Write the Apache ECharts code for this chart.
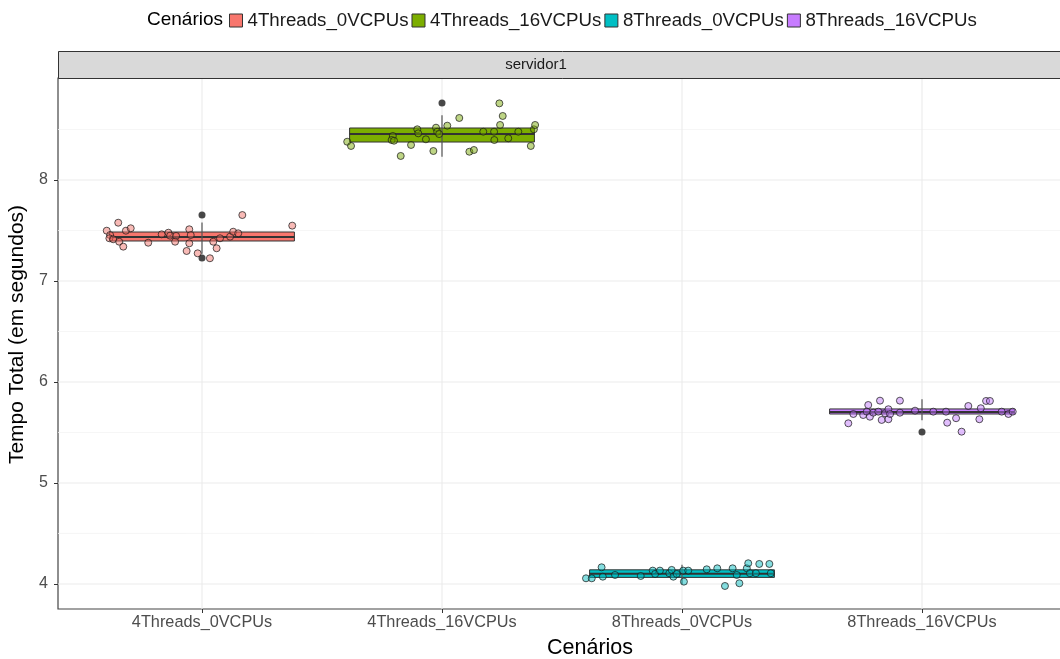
<!DOCTYPE html>
<html><head><meta charset="utf-8">
<script src="https://cdn.jsdelivr.net/npm/echarts@6/dist/echarts.min.js"></script>
<style>html,body{margin:0;padding:0;overflow:hidden;background:#fff}#c{width:1070px;height:659px}</style>
</head><body><div id="c"></div><script>
const categories = ['4Threads_0VCPUs','4Threads_16VCPUs','8Threads_0VCPUs','8Threads_16VCPUs'];
const colors = ['#F8766D','#7CAE00','#00BFC4','#C77CFF'];
const pointFills = ['rgba(240,110,102,0.6)','rgba(120,168,0,0.6)','rgba(0,185,190,0.6)','rgba(192,120,250,0.6)'];
// [category position, whiskerLow, Q1, median, Q3, whiskerHigh]
const boxStats = [
  [1, 7.27, 7.396, 7.436, 7.485, 7.58],
  [2, 8.23, 8.376, 8.455, 8.515, 8.64],
  [3, 4.00, 4.065, 4.100, 4.140, 4.19],
  [4, 5.62, 5.683, 5.703, 5.733, 5.83]
];
const outliers = [[1, 7.653], [1, 7.228], [2, 8.762], [4, 5.505]];
// jittered points (x in category units, value in seconds)
const jitterX1 = [0.603,0.651,0.617,0.614,0.630,0.655,0.672,0.683,0.703,0.776,0.832,0.860,0.867,0.892,0.888,0.936,0.947,0.953,0.947,0.982,1.033,1.061,1.047,1.075,1.117,1.130,1.151,1.168,1.376];
const values1  = [7.498,7.577,7.455,7.423,7.413,7.389,7.340,7.498,7.522,7.379,7.462,7.478,7.449,7.446,7.389,7.297,7.512,7.455,7.373,7.274,7.225,7.324,7.389,7.423,7.439,7.488,7.472,7.653,7.548];
const jitterX2 = [1.605,1.621,1.795,1.790,1.800,1.828,1.871,1.897,1.901,1.933,1.964,1.975,1.980,1.988,2.022,2.072,2.114,2.133,2.172,2.217,2.218,2.239,2.242,2.253,2.276,2.318,2.370,2.383,2.388];
const values2  = [8.379,8.337,8.436,8.396,8.389,8.238,8.347,8.502,8.462,8.403,8.287,8.518,8.478,8.455,8.538,8.614,8.280,8.297,8.478,8.478,8.396,8.759,8.545,8.634,8.413,8.478,8.337,8.502,8.545];
const jitterX3 = [2.600,2.624,2.665,2.670,2.721,2.828,2.878,2.888,2.908,2.947,2.957,2.964,2.978,3.005,3.008,3.026,3.103,3.147,3.179,3.211,3.228,3.239,3.270,3.276,3.283,3.322,3.308,3.364,3.370];
const values3  = [4.056,4.056,4.165,4.072,4.089,4.079,4.132,4.099,4.132,4.106,4.139,4.072,4.099,4.132,4.023,4.132,4.145,4.155,3.980,4.155,4.089,4.007,4.155,4.205,4.106,4.198,4.106,4.198,4.106];
const jitterX4 = [3.693,3.714,3.755,3.770,3.776,3.783,3.797,3.818,3.825,3.832,3.846,3.860,3.860,3.867,3.908,3.908,3.971,4.047,4.100,4.105,4.142,4.165,4.193,4.239,4.245,4.267,4.283,4.332,4.360,4.378];
const values4  = [5.591,5.683,5.673,5.706,5.772,5.656,5.696,5.706,5.815,5.624,5.690,5.631,5.730,5.683,5.696,5.815,5.716,5.706,5.706,5.597,5.641,5.508,5.762,5.631,5.740,5.812,5.812,5.706,5.683,5.706];
const yTicks = [4,5,6,7,8];
const yMinor = [4.5,5.5,6.5,7.5,8.5];
const xTicks = [1,2,3,4];

const jitterX = [jitterX1, jitterX2, jitterX3, jitterX4];
const jitterV = [values1, values2, values3, values4];
const FONT = 'Liberation Sans';
const BOX_HALF = 0.385;

const chart = echarts.init(document.getElementById('c'), null, {renderer:'canvas'});

function gridSeries(data, dir, color, width){
  return {
    type:'custom', silent:true, z:0, data: data.map(v => [v]),
    encode: dir === 'h' ? {y:0} : {x:0},
    renderItem(params, api){
      const cs = params.coordSys;
      if (dir === 'h'){
        const y = api.coord([1, api.value(0)])[1];
        return {type:'line', shape:{x1:cs.x, y1:y, x2:cs.x+cs.width, y2:y}, style:{stroke:color, lineWidth:width}};
      }
      const x = api.coord([api.value(0), 6])[0];
      return {type:'line', shape:{x1:x, y1:cs.y, x2:x, y2:cs.y+cs.height}, style:{stroke:color, lineWidth:width}};
    }
  };
}

const series = [
  gridSeries(yMinor, 'h', '#f4f4f4', 0.8),
  gridSeries(yTicks, 'h', '#ebebeb', 1.1),
  gridSeries(xTicks, 'v', '#ebebeb', 1.1)
];
categories.forEach((name, i) => {
  series.push({
    type:'custom', name, z:2, itemStyle:{color:colors[i]},
    data:[boxStats[i]],
    encode:{x:0, y:[1,2,3,4,5]},
    renderItem(params, api){
      const x = api.value(0);
      const lo = api.value(1), q1 = api.value(2), med = api.value(3), q3 = api.value(4), hi = api.value(5);
      const a = api.coord([x - BOX_HALF, q3]), b = api.coord([x + BOX_HALF, q1]);
      const t = api.coord([x, hi]), d = api.coord([x, lo]);
      const m1 = api.coord([x - BOX_HALF, med]), m2 = api.coord([x + BOX_HALF, med]);
      return {type:'group', children:[
        {type:'rect', shape:{x:a[0], y:a[1], width:b[0]-a[0], height:b[1]-a[1]}, style:{fill:colors[i], stroke:'#333', lineWidth:1}},
        {type:'line', shape:{x1:m1[0], y1:m1[1], x2:m2[0], y2:m2[1]}, style:{stroke:'#333', lineWidth:2}},
        {type:'line', shape:{x1:t[0], y1:t[1], x2:d[0], y2:d[1]}, style:{stroke:'#555', lineWidth:1.2}}
      ]};
    }
  });
});
series.push({
  type:'scatter', name:'outliers', z:3, symbolSize:7,
  itemStyle:{color:'#1a1a1a'}, data: outliers
});
categories.forEach((name, i) => {
  series.push({
    type:'scatter', name, z:4, symbolSize:7,
    itemStyle:{color:pointFills[i], borderColor:'rgba(25,25,25,0.9)', borderWidth:1},
    data: jitterX[i].map((x, k) => [x, jitterV[i][k]])
  });
});

chart.setOption({
  animation:false,
  textStyle:{fontFamily:FONT},
  title:{text:'Cenários', left:142, top:5, textStyle:{fontFamily:FONT, fontSize:19, fontWeight:'normal', color:'#000'}},
  legend:{
    left:224, top:6, itemWidth:13, itemHeight:13, itemGap:3, icon:'rect',
    textStyle:{fontFamily:FONT, fontSize:18.7, color:'#1a1a1a'},
    data: categories.map((n, i) => ({name:n, itemStyle:{color:colors[i], borderColor:'#333', borderWidth:1}}))
  },
  grid:{left:58, right:4, top:78, bottom:50, containLabel:false, outerBoundsMode:'none', show:true, borderColor:'#444', borderWidth:1.2, backgroundColor:'transparent'},
  xAxis:{
    type:'value', min:0.4, max:4.6,
    axisLine:{show:false},
    axisTick:{customValues:xTicks, length:4, lineStyle:{color:'#333'}},
    axisLabel:{customValues:xTicks, formatter:v => categories[Math.round(v)-1], fontSize:16.3, color:'#4d4d4d', margin:6, fontFamily:FONT},
    splitLine:{show:false},
    name:'Cenários', nameLocation:'middle', nameGap:28,
    nameTextStyle:{fontSize:21.5, color:'#000', fontFamily:FONT, padding:[0,0,0,56]}
  },
  yAxis:{
    type:'value', min:3.752, max:9.01,
    axisLine:{show:false},
    axisTick:{customValues:yTicks, length:4, lineStyle:{color:'#333'}},
    axisLabel:{customValues:yTicks, fontSize:16, color:'#4d4d4d', margin:10, fontFamily:FONT},
    splitLine:{show:false},
    name:'Tempo Total (em segundos)', nameLocation:'middle', nameGap:18,
    nameTextStyle:{fontSize:21, color:'#000', fontFamily:FONT, padding:[0,0,0,18]}
  },
  graphic:[
    {type:'rect', left:58, top:51, shape:{width:1008, height:27}, style:{fill:'#D9D9D9', stroke:'#333', lineWidth:1}, z:10},
    {type:'text', x:536, y:65, style:{text:'servidor1', fill:'#1a1a1a', fontSize:15, fontFamily:FONT, align:'center', verticalAlign:'middle'}, z:11}
  ],
  series
});
</script></body></html>
